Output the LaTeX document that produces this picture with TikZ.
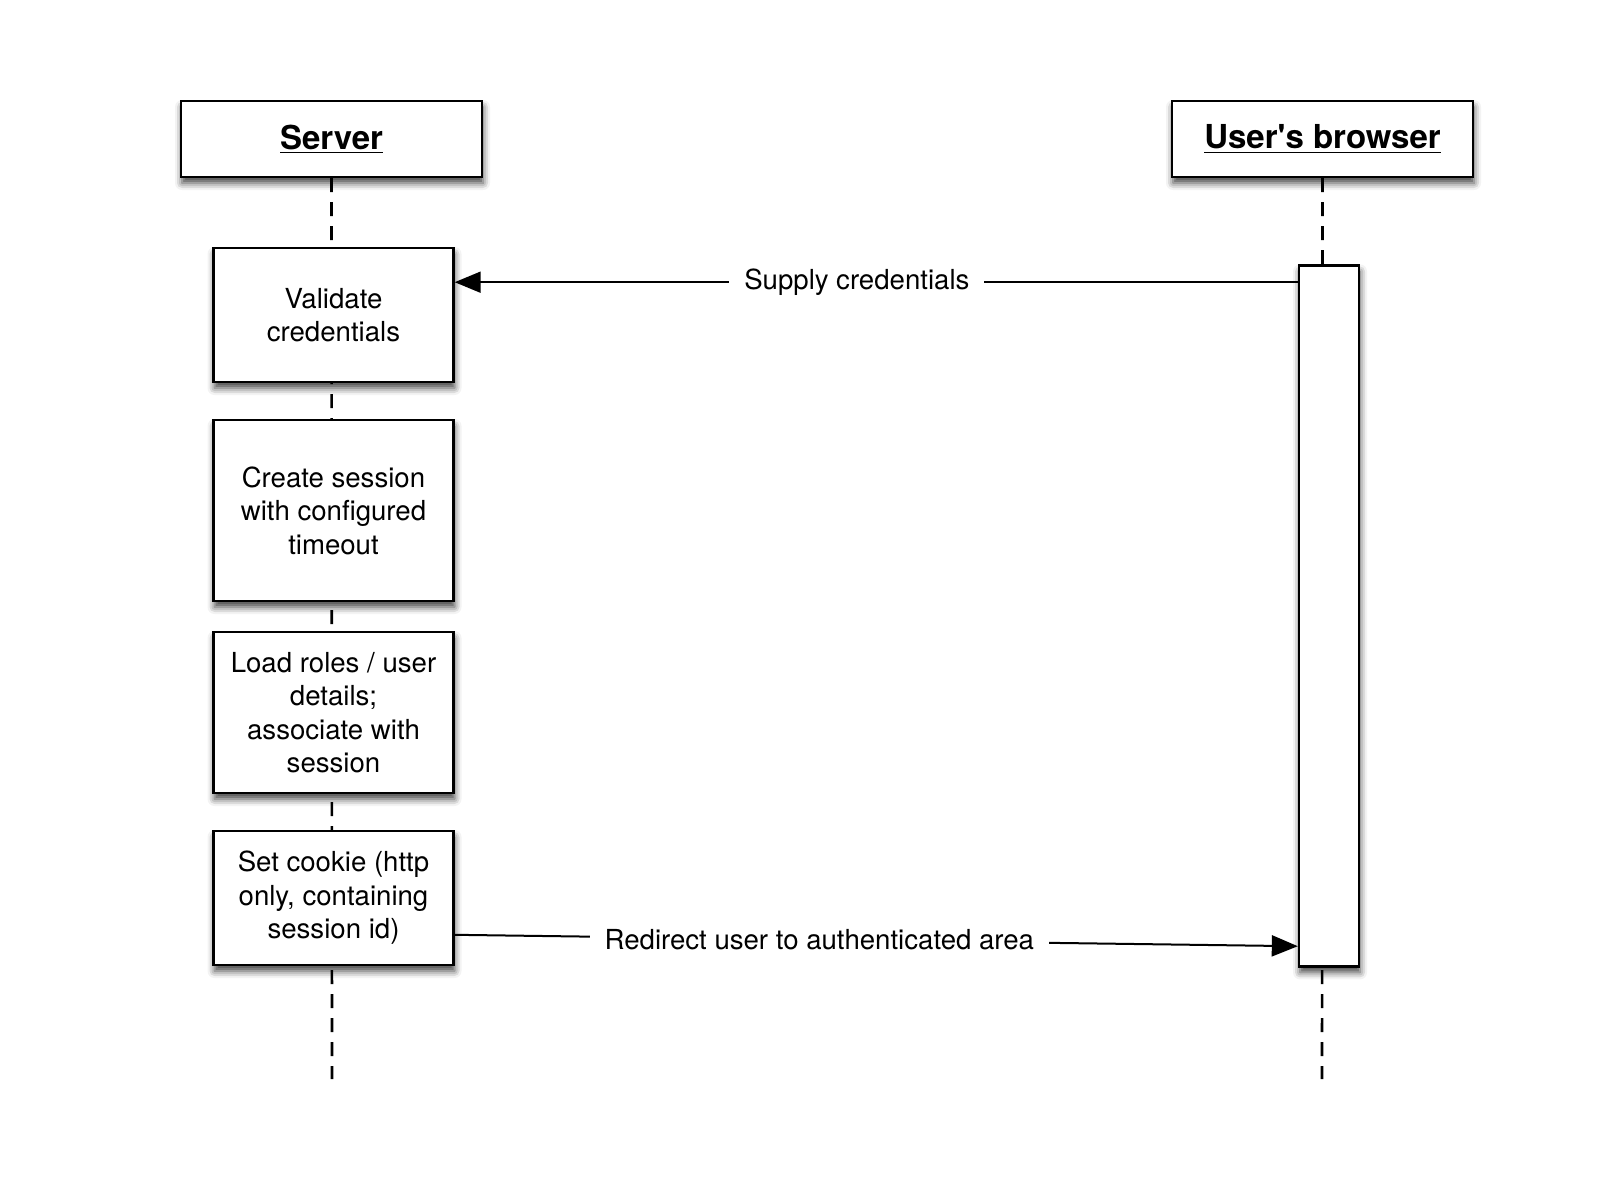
\documentclass[tikz,border=0pt]{standalone}
\usepackage{fontspec}
\setmainfont{TeX Gyre Heros}
\newfontfamily\headfont{TeX Gyre Heros}
\usetikzlibrary{positioning,arrows.meta,shadows.blur}

\tikzset{
  shade/.style={blur shadow={shadow xshift=0.5pt,shadow yshift=-3pt,shadow blur radius=3.5pt,shadow opacity=75}},
  head/.style={draw,line width=1.2pt,fill=white,shade,minimum width=150.5pt,minimum height=38pt,
    font=\headfont\fontsize{16.5}{20}\bfseries},
  task/.style={draw,line width=1.2pt,fill=white,shade,minimum width=120pt,align=center,
    font=\fontsize{13.8}{16.7}\selectfont},
  bar/.style={draw,line width=1.2pt,fill=white,shade,minimum width=30pt,minimum height=350.5pt},
  life/.style={line width=1.3pt,dash pattern=on 7pt off 5pt},
  msg/.style={line width=1pt,-{Triangle[length=13pt,width=10.5pt]}},
  lbl/.style={fill=white,inner xsep=7.5pt,font=\fontsize{13.8}{16.7}\selectfont}
}

\begin{document}
\begin{tikzpicture}[x=0.5pt,y=-0.5pt]
                \useasboundingbox (0,0) rectangle (1600,1199);
                \node [head] (server) at (331.5,139) {\underline{Server}};
                \node [head] (browser) at (1322.5,139) {\underline{User{\char39}s browser}};
                \coordinate (serverend) at (332,1079);
                \coordinate (browserend) at (1322,1079);
                \draw [life] (server.south) -- (serverend);
                \draw [life] (browser.south) -- (browserend);
                \node [task, minimum height=67pt, below=34.3pt of server, xshift=1pt] (validate) {Validate\\credentials};
                \node [task, minimum height=90.5pt, below=17.8pt of validate] (session) {Create session\\with configured\\timeout};
                \node [task, minimum height=80.5pt, below=14.3pt of session] (roles) {Load roles / user\\details;\\associate with\\session};
                \node [task, minimum height=67pt, below=17.8pt of roles] (cookie) {Set cookie (http\\only, containing\\session id)};
                \node [bar, below=43pt of browser, xshift=3.25pt] (active) {};
                \coordinate (supplyfrom) at ([yshift=-9pt]active.north west);
                \coordinate (redirectto) at ([yshift=10.7pt]active.south west);
                \draw [msg] (supplyfrom) -- node [lbl, pos=.523] {Supply credentials} (supplyfrom -| validate.east);
                \draw [msg] ([yshift=-18.4pt]cookie.east) -- node [lbl, pos=.4325] {Redirect user to authenticated area} (redirectto);
            \end{tikzpicture}
\end{document}
